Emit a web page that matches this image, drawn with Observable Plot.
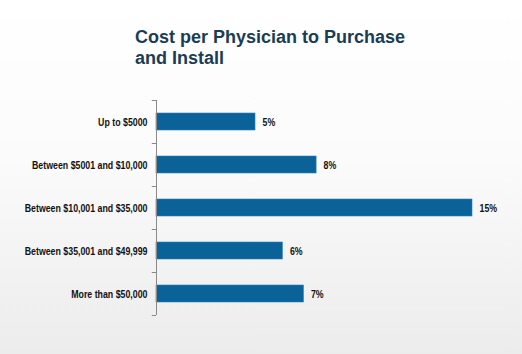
<!DOCTYPE html>
<html>
<head>
<meta charset="utf-8">
<script src="https://cdn.jsdelivr.net/npm/d3@7"></script>
<script src="https://cdn.jsdelivr.net/npm/@observablehq/plot@0.6"></script>
<style>
  html, body { margin: 0; padding: 0; }
  body {
    width: 522px; height: 354px; overflow: hidden;
    background: linear-gradient(180deg, #ffffff 0%, #fbfbfb 45%, #ececec 100%);
  }
  #title {
    box-sizing: border-box;
    height: 80px;
    padding: 27px 0 0 135px;
    font-family: "Liberation Sans", Arial, sans-serif;
    font-weight: bold;
    font-size: 18px;
    line-height: 21px;
    color: #1b3d53;
  }
  #chart svg { display: block; background: transparent; }
</style>
</head>
<body>
<div id="title">Cost per Physician to Purchase<br>and Install</div>
<div id="chart"></div>
<script>
const categories = [
  "Up to $5000",
  "Between $5001 and $10,000",
  "Between $10,001 and $35,000",
  "Between $35,001 and $49,999",
  "More than $50,000"
];
const values = [4.7, 7.6, 15.0, 6.0, 7.0];
const valueLabels = ["5%", "8%", "15%", "6%", "7%"];

const data = categories.map((c, i) => ({category: c, value: values[i], label: valueLabels[i]}));
const font = '"Liberation Sans", Arial, sans-serif';

const chart = Plot.plot({
  width: 522,
  height: 274,
  marginTop: 20,
  marginBottom: 39,
  marginLeft: 156,
  marginRight: 50,
  style: {fontFamily: font, fontSize: "11px", fontWeight: "bold", color: "#111", background: "transparent"},
  x: {domain: [0, 15], axis: null},
  y: {domain: categories, padding: 0},
  marks: [
    Plot.barX(data, {y: "category", x: "value", fill: "#0b6298", stroke: "#2a85b8", strokeWidth: 0.6, insetTop: 13, insetBottom: 13}),
    Plot.ruleX([0], {stroke: "#8a8a8a", strokeWidth: 1}),
    Plot.ruleY(categories, {y: d => d, x1: -0.2, x2: 0, dy: -21.5, stroke: "#8a8a8a"}),
    Plot.ruleY(categories.slice(-1), {y: d => d, x1: -0.2, x2: 0, dy: 21.5, stroke: "#8a8a8a"}),
    Plot.axisY({tickSize: 0, tickPadding: 9, fill: "#111", fontSize: 11, fontWeight: "bold", label: null}),
    Plot.text(data, {y: "category", x: "value", text: "label", dx: 7, textAnchor: "start", fill: "#111", fontSize: 11, fontWeight: "bold"})
  ]
});
document.getElementById("chart").appendChild(chart);

// condense the labels to imitate the narrow typeface of the original
chart.querySelectorAll('g[aria-label="y-axis tick label"] text, g[aria-label="text"] text').forEach(t => {
  const len = t.getComputedTextLength();
  t.setAttribute("textLength", (len * 0.8).toFixed(1));
  t.setAttribute("lengthAdjust", "spacingAndGlyphs");
});
</script>
</body>
</html>
